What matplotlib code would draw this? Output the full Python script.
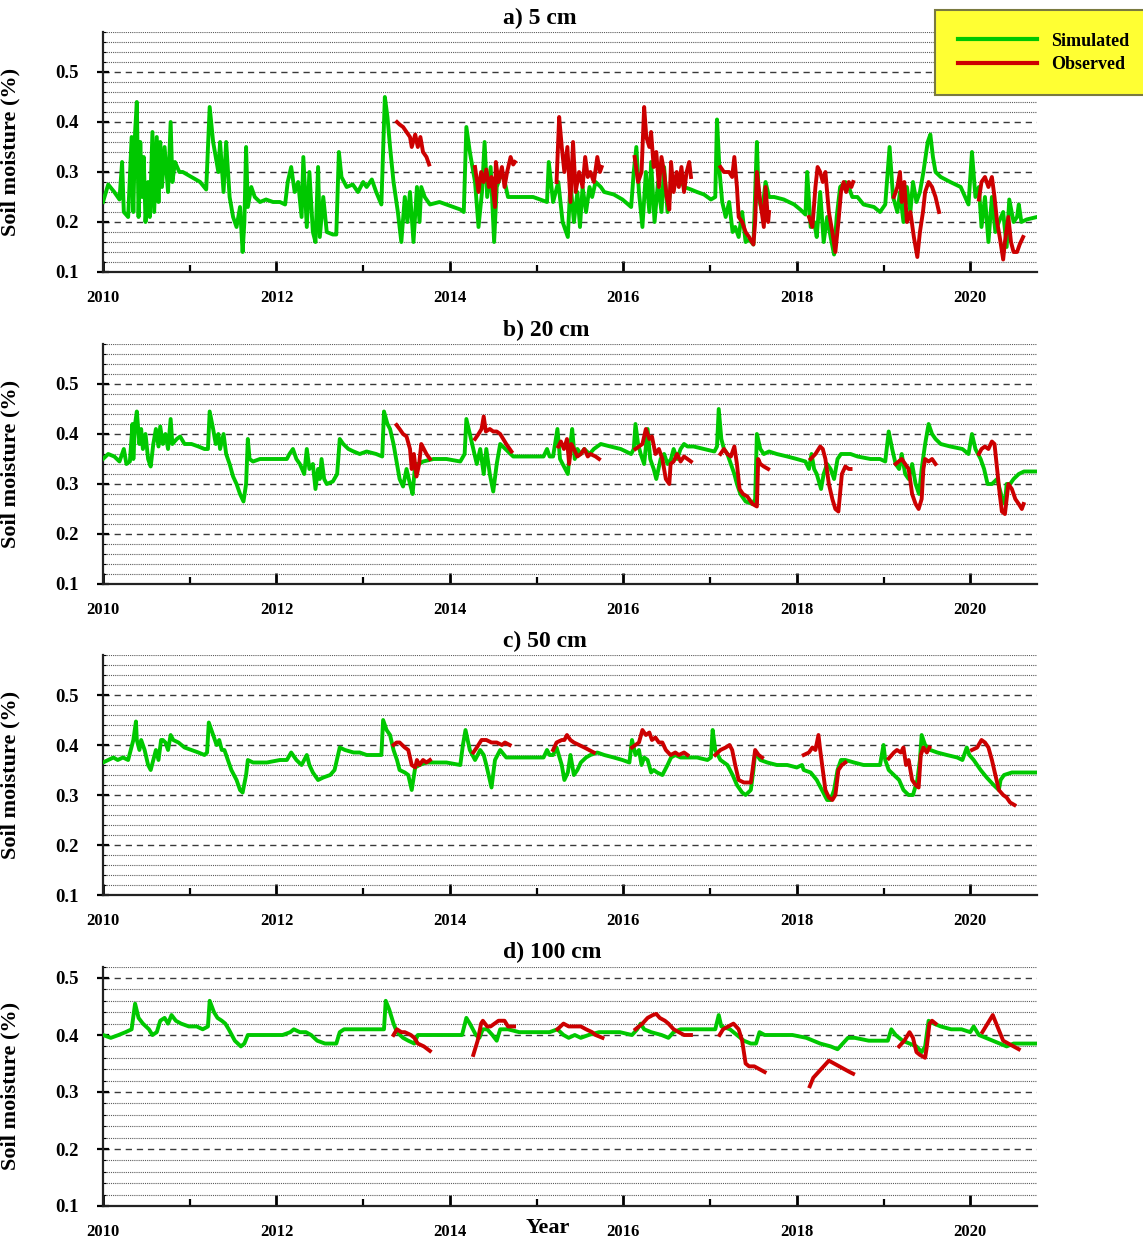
import numpy as np
import matplotlib
matplotlib.use('Agg')
import matplotlib.pyplot as plt
from matplotlib.ticker import MultipleLocator, FormatStrFormatter
from matplotlib.lines import Line2D

plt.rcParams['font.family'] = ['Liberation Serif', 'DejaVu Serif']
plt.rcParams['font.weight'] = 'bold'

# simulated soil moisture, (decimal year, value)
sim_5cm = [
    (2010.00, .24), (2010.06, .275), (2010.13, .26), (2010.19, .245), (2010.22, .32), (2010.24, .22),
    (2010.29, .21), (2010.33, .37), (2010.35, .22), (2010.37, .38), (2010.39, .44), (2010.41, .21),
    (2010.43, .36), (2010.45, .25), (2010.47, .33), (2010.49, .20), (2010.52, .28), (2010.54, .21),
    (2010.57, .38), (2010.59, .22), (2010.62, .37), (2010.64, .24), (2010.66, .36), (2010.68, .27),
    (2010.71, .35), (2010.75, .26), (2010.78, .40), (2010.80, .28), (2010.83, .32), (2010.88, .30),
    (2010.92, .30), (2011.12, .28), (2011.19, .265), (2011.23, .43), (2011.27, .36), (2011.33, .30),
    (2011.35, .36), (2011.39, .26), (2011.42, .36), (2011.46, .25), (2011.50, .21), (2011.54, .19),
    (2011.58, .23), (2011.61, .14), (2011.63, .20), (2011.65, .35), (2011.67, .23), (2011.71, .27),
    (2011.75, .25), (2011.81, .24), (2011.88, .245), (2011.96, .24), (2012.04, .24), (2012.10, .235),
    (2012.13, .28), (2012.17, .31), (2012.21, .26), (2012.25, .28), (2012.29, .21), (2012.31, .33),
    (2012.35, .19), (2012.38, .30), (2012.42, .18), (2012.45, .16), (2012.48, .31), (2012.50, .17),
    (2012.54, .25), (2012.58, .18), (2012.65, .175), (2012.69, .175), (2012.72, .34), (2012.75, .29),
    (2012.81, .27), (2012.88, .275), (2012.94, .26), (2013.00, .28), (2013.04, .27), (2013.10, .285),
    (2013.15, .26), (2013.21, .235), (2013.25, .45), (2013.28, .41), (2013.31, .35), (2013.35, .28),
    (2013.40, .22), (2013.44, .16), (2013.48, .25), (2013.51, .20), (2013.54, .26), (2013.58, .16),
    (2013.62, .27), (2013.65, .20), (2013.67, .27), (2013.71, .25), (2013.77, .235), (2013.88, .24),
    (2013.96, .235), (2014.12, .225), (2014.16, .22), (2014.19, .39), (2014.23, .34), (2014.29, .28),
    (2014.33, .19), (2014.37, .26), (2014.40, .36), (2014.43, .25), (2014.47, .31), (2014.51, .16),
    (2014.54, .27), (2014.58, .29), (2014.62, .29), (2014.67, .25), (2014.81, .25), (2014.96, .25),
    (2015.12, .24), (2015.14, .32), (2015.19, .24), (2015.25, .28), (2015.30, .20), (2015.32, .19),
    (2015.36, .17), (2015.39, .28), (2015.43, .20), (2015.47, .26), (2015.50, .19), (2015.53, .27),
    (2015.57, .22), (2015.61, .27), (2015.64, .25), (2015.68, .28), (2015.74, .27), (2015.78, .26),
    (2015.89, .255), (2015.99, .245), (2016.09, .23), (2016.12, .30), (2016.15, .35), (2016.18, .26),
    (2016.22, .19), (2016.26, .30), (2016.30, .22), (2016.32, .32), (2016.36, .20), (2016.40, .28),
    (2016.44, .22), (2016.47, .31), (2016.51, .22), (2016.54, .26), (2016.58, .28), (2016.64, .29),
    (2016.70, .27), (2016.78, .265), (2016.85, .26), (2016.93, .255), (2017.01, .245), (2017.06, .25),
    (2017.08, .405), (2017.11, .30), (2017.14, .24), (2017.18, .21), (2017.22, .24), (2017.26, .18),
    (2017.29, .19), (2017.33, .17), (2017.37, .22), (2017.41, .16), (2017.45, .165), (2017.50, .155),
    (2017.54, .36), (2017.56, .25), (2017.60, .22), (2017.64, .28), (2017.68, .25), (2017.74, .25),
    (2017.85, .245), (2017.97, .235), (2018.04, .225), (2018.10, .215), (2018.12, .30), (2018.16, .19),
    (2018.20, .20), (2018.23, .17), (2018.27, .26), (2018.31, .16), (2018.35, .21), (2018.39, .17),
    (2018.43, .135), (2018.46, .21), (2018.50, .27), (2018.56, .28), (2018.60, .27), (2018.64, .25),
    (2018.70, .25), (2018.77, .235), (2018.89, .23), (2018.96, .22), (2019.02, .235), (2019.07, .35),
    (2019.11, .25), (2019.16, .22), (2019.19, .26), (2019.23, .20), (2019.27, .27), (2019.31, .22),
    (2019.34, .28), (2019.38, .24), (2019.42, .26), (2019.46, .30), (2019.51, .36), (2019.54, .375),
    (2019.57, .33), (2019.60, .30), (2019.66, .29), (2019.77, .28), (2019.89, .27), (2019.98, .235),
    (2020.02, .34), (2020.06, .25), (2020.10, .27), (2020.13, .19), (2020.17, .25), (2020.21, .16),
    (2020.25, .25), (2020.29, .18), (2020.33, .20), (2020.38, .22), (2020.42, .15), (2020.45, .245),
    (2020.50, .20), (2020.54, .21), (2020.56, .235), (2020.59, .20), (2020.65, .205), (2020.77, .21),
]

sim_20cm = [
    (2010.00, .35), (2010.06, .36), (2010.13, .355), (2010.19, .345), (2010.24, .37), (2010.27, .34),
    (2010.31, .345), (2010.34, .42), (2010.35, .35), (2010.37, .42), (2010.39, .445), (2010.42, .38),
    (2010.44, .41), (2010.46, .37), (2010.49, .40), (2010.52, .35), (2010.55, .335), (2010.58, .38),
    (2010.61, .41), (2010.64, .375), (2010.66, .415), (2010.69, .38), (2010.72, .40), (2010.75, .37),
    (2010.78, .43), (2010.80, .38), (2010.85, .39), (2010.89, .395), (2010.94, .38), (2011.02, .38),
    (2011.10, .375), (2011.17, .37), (2011.21, .37), (2011.23, .445), (2011.27, .41), (2011.30, .38),
    (2011.33, .40), (2011.35, .37), (2011.39, .40), (2011.42, .36), (2011.46, .34), (2011.50, .315),
    (2011.54, .30), (2011.58, .28), (2011.62, .265), (2011.65, .30), (2011.67, .39), (2011.69, .35),
    (2011.73, .345), (2011.81, .35), (2011.96, .35), (2012.12, .35), (2012.15, .36), (2012.19, .37),
    (2012.23, .35), (2012.27, .34), (2012.32, .32), (2012.35, .37), (2012.38, .33), (2012.42, .34),
    (2012.45, .29), (2012.48, .33), (2012.50, .31), (2012.52, .35), (2012.55, .31), (2012.58, .30),
    (2012.65, .305), (2012.70, .32), (2012.73, .39), (2012.77, .38), (2012.83, .37), (2012.89, .365),
    (2012.96, .36), (2013.04, .365), (2013.15, .36), (2013.22, .355), (2013.24, .445), (2013.28, .42),
    (2013.31, .41), (2013.35, .38), (2013.39, .34), (2013.42, .31), (2013.46, .295), (2013.50, .33),
    (2013.54, .30), (2013.57, .28), (2013.60, .34), (2013.64, .34), (2013.69, .345), (2013.81, .35),
    (2013.96, .35), (2014.12, .345), (2014.17, .36), (2014.19, .43), (2014.23, .40), (2014.27, .37),
    (2014.31, .34), (2014.35, .37), (2014.39, .32), (2014.42, .37), (2014.46, .32), (2014.50, .285),
    (2014.54, .34), (2014.58, .38), (2014.64, .37), (2014.73, .355), (2014.96, .355), (2015.08, .355),
    (2015.12, .37), (2015.15, .355), (2015.19, .355), (2015.24, .41), (2015.27, .35), (2015.33, .33),
    (2015.36, .32), (2015.39, .38), (2015.41, .41), (2015.44, .35), (2015.47, .37), (2015.51, .36),
    (2015.55, .37), (2015.61, .36), (2015.66, .37), (2015.70, .375), (2015.74, .38), (2015.85, .375),
    (2015.97, .37), (2016.09, .36), (2016.12, .37), (2016.14, .42), (2016.17, .38), (2016.20, .36),
    (2016.24, .34), (2016.28, .41), (2016.31, .35), (2016.35, .33), (2016.38, .31), (2016.43, .35),
    (2016.47, .36), (2016.51, .34), (2016.55, .35), (2016.58, .37), (2016.62, .35), (2016.66, .37),
    (2016.70, .38), (2016.74, .375), (2016.81, .375), (2016.93, .37), (2017.05, .365), (2017.08, .375),
    (2017.10, .45), (2017.13, .39), (2017.16, .37), (2017.20, .36), (2017.24, .34), (2017.28, .32),
    (2017.31, .30), (2017.35, .28), (2017.41, .265), (2017.49, .26), (2017.52, .27), (2017.54, .40),
    (2017.58, .37), (2017.62, .36), (2017.68, .365), (2017.77, .36), (2017.89, .355), (2018.00, .35),
    (2018.10, .345), (2018.14, .33), (2018.17, .36), (2018.20, .33), (2018.23, .32), (2018.28, .29),
    (2018.31, .32), (2018.35, .34), (2018.39, .33), (2018.43, .31), (2018.47, .35), (2018.51, .36),
    (2018.56, .36), (2018.62, .36), (2018.70, .355), (2018.85, .35), (2018.96, .35), (2019.02, .345),
    (2019.06, .405), (2019.10, .37), (2019.14, .34), (2019.18, .33), (2019.21, .36), (2019.25, .32),
    (2019.29, .31), (2019.33, .34), (2019.37, .30), (2019.41, .28), (2019.44, .33), (2019.48, .38),
    (2019.52, .42), (2019.56, .40), (2019.60, .39), (2019.66, .38), (2019.77, .375), (2019.91, .37),
    (2019.98, .36), (2020.02, .40), (2020.06, .37), (2020.12, .35), (2020.16, .33), (2020.20, .30),
    (2020.25, .30), (2020.31, .31), (2020.37, .27), (2020.40, .26), (2020.42, .30), (2020.46, .30),
    (2020.50, .31), (2020.56, .32), (2020.62, .325), (2020.77, .325),
]

sim_50cm = [
    (2010.00, .365), (2010.06, .37), (2010.12, .375), (2010.17, .37), (2010.23, .375), (2010.29, .37),
    (2010.32, .39), (2010.35, .41), (2010.38, .447), (2010.39, .41), (2010.42, .39), (2010.44, .41),
    (2010.48, .39), (2010.52, .36), (2010.55, .35), (2010.58, .37), (2010.61, .39), (2010.64, .37),
    (2010.67, .41), (2010.69, .41), (2010.72, .405), (2010.75, .39), (2010.78, .42), (2010.81, .41),
    (2010.87, .405), (2010.94, .395), (2011.02, .39), (2011.10, .385), (2011.17, .38), (2011.20, .385),
    (2011.22, .445), (2011.27, .42), (2011.31, .40), (2011.34, .41), (2011.37, .39), (2011.40, .39),
    (2011.44, .37), (2011.48, .35), (2011.54, .33), (2011.58, .31), (2011.61, .305), (2011.65, .34),
    (2011.67, .37), (2011.73, .365), (2011.89, .365), (2012.04, .37), (2012.12, .37), (2012.17, .385),
    (2012.23, .37), (2012.29, .36), (2012.35, .38), (2012.38, .36), (2012.42, .345), (2012.48, .33),
    (2012.54, .335), (2012.62, .34), (2012.67, .35), (2012.71, .38), (2012.73, .395), (2012.79, .39),
    (2012.89, .385), (2012.96, .385), (2013.04, .38), (2013.15, .38), (2013.21, .38), (2013.23, .45),
    (2013.27, .43), (2013.31, .42), (2013.35, .39), (2013.39, .37), (2013.42, .35), (2013.48, .345),
    (2013.52, .34), (2013.56, .31), (2013.60, .355), (2013.65, .36), (2013.73, .365), (2013.96, .365),
    (2014.12, .36), (2014.15, .40), (2014.18, .43), (2014.23, .39), (2014.29, .37), (2014.35, .39),
    (2014.39, .38), (2014.42, .36), (2014.48, .315), (2014.52, .37), (2014.58, .39), (2014.65, .375),
    (2014.96, .375), (2015.08, .375), (2015.12, .39), (2015.15, .38), (2015.19, .38), (2015.23, .395),
    (2015.29, .36), (2015.32, .33), (2015.36, .345), (2015.39, .38), (2015.43, .34), (2015.47, .35),
    (2015.51, .365), (2015.57, .375), (2015.62, .38), (2015.70, .385), (2015.78, .38), (2015.89, .375),
    (2015.99, .37), (2016.07, .365), (2016.10, .41), (2016.14, .38), (2016.18, .39), (2016.21, .36),
    (2016.24, .375), (2016.28, .37), (2016.32, .345), (2016.35, .35), (2016.39, .345), (2016.45, .34),
    (2016.51, .36), (2016.55, .375), (2016.60, .38), (2016.66, .375), (2016.74, .375), (2016.85, .375),
    (2016.97, .37), (2017.01, .375), (2017.03, .43), (2017.06, .39), (2017.12, .37), (2017.20, .36),
    (2017.26, .34), (2017.31, .32), (2017.37, .305), (2017.41, .30), (2017.47, .31), (2017.50, .35),
    (2017.52, .385), (2017.58, .37), (2017.66, .365), (2017.77, .36), (2017.89, .36), (2018.00, .355),
    (2018.06, .36), (2018.08, .35), (2018.16, .345), (2018.23, .33), (2018.29, .31), (2018.35, .29),
    (2018.39, .29), (2018.43, .31), (2018.47, .35), (2018.51, .37), (2018.56, .37), (2018.66, .365),
    (2018.77, .36), (2018.96, .36), (2019.00, .40), (2019.02, .37), (2019.06, .35), (2019.12, .34),
    (2019.18, .33), (2019.23, .31), (2019.29, .30), (2019.34, .30), (2019.39, .33), (2019.42, .37),
    (2019.44, .42), (2019.48, .40), (2019.54, .39), (2019.62, .385), (2019.73, .38), (2019.85, .375),
    (2019.91, .37), (2019.96, .395), (2019.99, .38), (2020.04, .37), (2020.12, .35), (2020.19, .335),
    (2020.27, .32), (2020.33, .31), (2020.35, .33), (2020.39, .34), (2020.48, .345), (2020.77, .345),
]

sim_100cm = [
    (2010.00, .40), (2010.09, .395), (2010.18, .40), (2010.26, .405), (2010.33, .41), (2010.37, .455),
    (2010.41, .43), (2010.46, .42), (2010.53, .41), (2010.57, .40), (2010.62, .405), (2010.66, .425),
    (2010.71, .43), (2010.75, .42), (2010.79, .435), (2010.84, .425), (2010.90, .42), (2010.99, .415),
    (2011.08, .415), (2011.15, .41), (2011.21, .415), (2011.23, .46), (2011.28, .44), (2011.32, .43),
    (2011.37, .425), (2011.41, .42), (2011.45, .41), (2011.52, .39), (2011.59, .38), (2011.63, .385),
    (2011.67, .40), (2011.89, .40), (2012.07, .40), (2012.16, .405), (2012.20, .41), (2012.27, .405),
    (2012.34, .405), (2012.40, .40), (2012.47, .39), (2012.56, .385), (2012.69, .385), (2012.73, .405),
    (2012.78, .41), (2013.04, .41), (2013.24, .41), (2013.26, .46), (2013.30, .445), (2013.35, .42),
    (2013.39, .405), (2013.46, .395), (2013.52, .39), (2013.59, .385), (2013.63, .40), (2013.79, .40),
    (2014.01, .40), (2014.14, .40), (2014.19, .43), (2014.23, .42), (2014.30, .40), (2014.34, .395),
    (2014.38, .41), (2014.43, .41), (2014.49, .40), (2014.54, .39), (2014.58, .41), (2014.67, .41),
    (2014.80, .405), (2014.98, .405), (2015.15, .405), (2015.24, .41), (2015.31, .40), (2015.37, .395),
    (2015.44, .40), (2015.51, .395), (2015.60, .40), (2015.72, .405), (2015.84, .405), (2015.96, .405),
    (2016.10, .40), (2016.16, .41), (2016.20, .42), (2016.24, .41), (2016.32, .405), (2016.44, .40),
    (2016.52, .395), (2016.58, .405), (2016.66, .41), (2016.76, .41), (2016.92, .41), (2017.06, .41),
    (2017.10, .435), (2017.13, .415), (2017.23, .41), (2017.31, .40), (2017.39, .39), (2017.47, .385),
    (2017.53, .385), (2017.57, .405), (2017.63, .40), (2017.79, .40), (2017.95, .40), (2018.11, .395),
    (2018.27, .385), (2018.39, .38), (2018.47, .375), (2018.53, .385), (2018.59, .395), (2018.67, .395),
    (2018.83, .39), (2019.05, .39), (2019.09, .41), (2019.14, .40), (2019.22, .39), (2019.30, .385),
    (2019.38, .38), (2019.44, .37), (2019.48, .38), (2019.52, .425), (2019.58, .42), (2019.66, .415),
    (2019.78, .41), (2019.90, .41), (2020.00, .405), (2020.04, .415), (2020.10, .40), (2020.18, .395),
    (2020.26, .39), (2020.34, .385), (2020.42, .38), (2020.50, .385), (2020.62, .385), (2020.77, .385),
]

# observed soil moisture, one list per measuring campaign
obs_5cm = [
    [(2013.39, .40), (2013.42, .395), (2013.46, .39), (2013.50, .38), (2013.54, .37), (2013.56, .35),
     (2013.60, .375), (2013.63, .35), (2013.66, .37), (2013.69, .34), (2013.73, .33), (2013.76, .315)],
    [(2014.29, .31), (2014.33, .26), (2014.36, .30), (2014.39, .28), (2014.42, .305), (2014.45, .27),
     (2014.48, .29), (2014.52, .23), (2014.53, .32), (2014.56, .28), (2014.60, .31), (2014.63, .27),
     (2014.66, .30), (2014.70, .33), (2014.73, .315), (2014.75, .32)],
    [(2015.23, .28), (2015.26, .41), (2015.29, .35), (2015.32, .30), (2015.355, .35), (2015.39, .24),
     (2015.42, .36), (2015.45, .26), (2015.49, .30), (2015.53, .27), (2015.56, .33), (2015.59, .29),
     (2015.62, .30), (2015.66, .28), (2015.70, .33), (2015.73, .30), (2015.75, .31)],
    [(2016.13, .33), (2016.17, .28), (2016.21, .30), (2016.24, .43), (2016.265, .37), (2016.30, .35),
     (2016.32, .38), (2016.35, .31), (2016.38, .34), (2016.41, .27), (2016.44, .33), (2016.47, .30),
     (2016.50, .25), (2016.53, .225), (2016.55, .32), (2016.58, .26), (2016.615, .30), (2016.64, .27),
     (2016.67, .31), (2016.70, .26), (2016.73, .30), (2016.76, .32), (2016.78, .29)],
    [(2017.12, .31), (2017.16, .30), (2017.22, .30), (2017.255, .29), (2017.28, .33), (2017.31, .27),
     (2017.33, .21), (2017.37, .20), (2017.41, .18), (2017.45, .17), (2017.50, .155), (2017.52, .20),
     (2017.54, .30), (2017.58, .24), (2017.62, .19), (2017.64, .27), (2017.67, .20), (2017.68, .22)],
    [(2018.14, .21), (2018.18, .19), (2018.215, .27), (2018.24, .31), (2018.27, .30), (2018.30, .28),
     (2018.33, .30), (2018.37, .22), (2018.41, .18), (2018.445, .14), (2018.48, .20), (2018.51, .26),
     (2018.54, .28), (2018.57, .26), (2018.60, .28), (2018.63, .27), (2018.65, .28)],
    [(2019.12, .25), (2019.16, .27), (2019.19, .30), (2019.21, .24), (2019.24, .28), (2019.27, .20),
     (2019.31, .22), (2019.35, .17), (2019.39, .13), (2019.42, .18), (2019.455, .22), (2019.48, .26),
     (2019.52, .28), (2019.56, .27), (2019.60, .25), (2019.64, .22)],
    [(2020.10, .245), (2020.13, .28), (2020.17, .29), (2020.21, .27), (2020.25, .29), (2020.28, .25),
     (2020.31, .20), (2020.34, .17), (2020.38, .125), (2020.40, .16), (2020.44, .21), (2020.47, .16),
     (2020.50, .14), (2020.54, .14), (2020.57, .155), (2020.61, .17)],
]

obs_20cm = [
    [(2013.385, .418), (2013.42, .41), (2013.46, .40), (2013.50, .395), (2013.54, .37), (2013.56, .33),
     (2013.585, .36), (2013.615, .315), (2013.645, .34), (2013.67, .38), (2013.70, .37), (2013.73, .36),
     (2013.77, .35)],
    [(2014.29, .39), (2014.33, .40), (2014.365, .41), (2014.39, .435), (2014.415, .405), (2014.46, .41),
     (2014.50, .405), (2014.54, .405), (2014.58, .40), (2014.615, .39), (2014.65, .38), (2014.71, .365)],
    [(2015.25, .375), (2015.28, .385), (2015.315, .37), (2015.35, .39), (2015.375, .34), (2015.40, .38),
     (2015.43, .37), (2015.47, .355), (2015.51, .36), (2015.55, .37), (2015.59, .355), (2015.62, .36),
     (2015.68, .355), (2015.72, .35)],
    [(2016.14, .37), (2016.18, .375), (2016.22, .38), (2016.26, .41), (2016.30, .39), (2016.33, .395),
     (2016.37, .36), (2016.41, .37), (2016.45, .35), (2016.49, .31), (2016.53, .30), (2016.545, .34),
     (2016.58, .345), (2016.62, .36), (2016.66, .345), (2016.70, .355), (2016.74, .35), (2016.78, .345)],
    [(2017.12, .36), (2017.16, .37), (2017.20, .36), (2017.24, .355), (2017.28, .375), (2017.31, .34),
     (2017.34, .29), (2017.38, .28), (2017.43, .275), (2017.49, .26), (2017.54, .255), (2017.555, .35),
     (2017.58, .34), (2017.62, .335), (2017.67, .33)],
    [(2018.16, .35), (2018.215, .36), (2018.27, .375), (2018.30, .37), (2018.33, .35), (2018.37, .30),
     (2018.41, .27), (2018.445, .25), (2018.48, .245), (2018.52, .32), (2018.56, .335), (2018.60, .33),
     (2018.62, .33)],
    [(2019.14, .34), (2019.175, .345), (2019.21, .35), (2019.25, .34), (2019.29, .33), (2019.33, .28),
     (2019.37, .26), (2019.405, .25), (2019.44, .27), (2019.46, .33), (2019.48, .35), (2019.52, .345),
     (2019.56, .35), (2019.60, .34)],
    [(2020.10, .36), (2020.13, .37), (2020.17, .375), (2020.21, .37), (2020.25, .385), (2020.28, .38),
     (2020.31, .33), (2020.34, .28), (2020.365, .245), (2020.40, .24), (2020.44, .30), (2020.48, .29),
     (2020.52, .27), (2020.56, .26), (2020.595, .25), (2020.615, .26)],
]

obs_50cm = [
    [(2013.35, .40), (2013.385, .405), (2013.42, .405), (2013.48, .395), (2013.52, .39), (2013.56, .36),
     (2013.60, .355), (2013.62, .37), (2013.65, .36), (2013.69, .37), (2013.73, .365), (2013.77, .37)],
    [(2014.27, .385), (2014.31, .395), (2014.365, .41), (2014.42, .41), (2014.48, .405), (2014.54, .405),
     (2014.60, .40), (2014.635, .405), (2014.69, .40)],
    [(2015.19, .39), (2015.23, .405), (2015.29, .41), (2015.32, .41), (2015.35, .42), (2015.39, .41),
     (2015.43, .405), (2015.49, .40), (2015.55, .395), (2015.605, .39), (2015.66, .385)],
    [(2016.10, .395), (2016.14, .40), (2016.18, .405), (2016.22, .43), (2016.26, .42), (2016.30, .425),
     (2016.33, .41), (2016.37, .415), (2016.41, .405), (2016.45, .405), (2016.49, .39), (2016.545, .38),
     (2016.60, .385), (2016.64, .38), (2016.70, .385), (2016.74, .38)],
    [(2017.06, .38), (2017.12, .39), (2017.18, .395), (2017.225, .40), (2017.255, .39), (2017.29, .36),
     (2017.33, .33), (2017.39, .325), (2017.47, .325), (2017.49, .35), (2017.52, .39), (2017.56, .38),
     (2017.60, .375)],
    [(2018.08, .38), (2018.14, .385), (2018.18, .395), (2018.215, .39), (2018.25, .42), (2018.27, .39),
     (2018.30, .35), (2018.33, .31), (2018.37, .295), (2018.41, .29), (2018.445, .30), (2018.48, .35),
     (2018.52, .36), (2018.56, .365)],
    [(2019.06, .373), (2019.12, .385), (2019.155, .39), (2019.20, .385), (2019.23, .395), (2019.26, .36),
     (2019.29, .37), (2019.33, .33), (2019.37, .32), (2019.405, .315), (2019.43, .38), (2019.46, .395),
     (2019.50, .385), (2019.53, .395)],
    [(2020.02, .39), (2020.08, .395), (2020.13, .41), (2020.17, .405), (2020.21, .395), (2020.25, .37),
     (2020.29, .34), (2020.33, .31), (2020.38, .30), (2020.42, .295), (2020.46, .285), (2020.51, .28)],
]

obs_100cm = [
    [(2013.35, .40), (2013.39, .41), (2013.44, .405), (2013.48, .405), (2013.55, .40), (2013.59, .395),
     (2013.63, .385), (2013.70, .38), (2013.77, .372)],
    [(2014.27, .365), (2014.32, .39), (2014.36, .42), (2014.38, .425), (2014.43, .415), (2014.47, .415),
     (2014.515, .42), (2014.56, .425), (2014.63, .425), (2014.67, .415), (2014.74, .415)],
    [(2015.24, .41), (2015.31, .42), (2015.37, .415), (2015.44, .415), (2015.51, .415), (2015.57, .41),
     (2015.64, .405), (2015.68, .40), (2015.76, .395)],
    [(2016.14, .41), (2016.18, .415), (2016.22, .42), (2016.28, .43), (2016.34, .435), (2016.38, .437),
     (2016.42, .43), (2016.48, .425), (2016.52, .42), (2016.58, .41), (2016.64, .405), (2016.70, .40),
     (2016.78, .40)],
    [(2017.11, .40), (2017.15, .41), (2017.21, .415), (2017.27, .42), (2017.33, .41), (2017.37, .39),
     (2017.41, .35), (2017.45, .345), (2017.51, .345), (2017.57, .34), (2017.63, .335)],
    [(2018.15, .31), (2018.19, .325), (2018.25, .335), (2018.31, .345), (2018.37, .355), (2018.43, .35),
     (2018.49, .345), (2018.55, .34), (2018.61, .335), (2018.65, .332)],
    [(2019.18, .38), (2019.24, .39), (2019.30, .405), (2019.34, .395), (2019.38, .37), (2019.42, .365),
     (2019.48, .36), (2019.50, .38), (2019.53, .42), (2019.56, .425), (2019.60, .42)],
    [(2020.14, .405), (2020.20, .42), (2020.26, .435), (2020.30, .42), (2020.34, .405), (2020.38, .39),
     (2020.44, .385), (2020.50, .38), (2020.56, .375)],
]

titles = ['a) 5 cm', 'b) 20 cm', 'c) 50 cm', 'd) 100 cm']
sim_series = [sim_5cm, sim_20cm, sim_50cm, sim_100cm]
obs_series = [obs_5cm, obs_20cm, obs_50cm, obs_100cm]
y_tops = [0.58, 0.58, 0.58, 0.52]

GREEN = '#00c800'
RED = '#cc0000'

W, H = 1143, 1241
fig = plt.figure(figsize=(W / 100, H / 100), dpi=100)

# panel frames in pixels: left, right, bottom
left_px, right_px = 103, 1037
bottoms_px = [272, 584, 895, 1206]
px_per_tenth = [50, 50, 50, 57]

for i in range(4):
    height_px = (y_tops[i] - 0.1) * 10 * px_per_tenth[i]
    ax = fig.add_axes([left_px / W, 1 - bottoms_px[i] / H,
                       (right_px - left_px) / W, height_px / H])

    yrs, vals = np.array(sim_series[i]).T
    ax.plot(yrs, vals, color=GREEN, lw=2.8, solid_joinstyle='round', zorder=3)
    for seg in obs_series[i]:
        oy, ov = np.array(seg).T
        ax.plot(oy, ov, color=RED, lw=2.8, solid_joinstyle='round', zorder=4)

    ax.set_xlim(2010, 2020.77)
    ax.set_ylim(0.1, y_tops[i])

    ax.yaxis.set_major_locator(MultipleLocator(0.1))
    ax.yaxis.set_minor_locator(MultipleLocator(0.02))
    ax.yaxis.set_major_formatter(FormatStrFormatter('%.1f'))
    ax.xaxis.set_major_locator(MultipleLocator(2))
    ax.xaxis.set_minor_locator(MultipleLocator(1))
    ax.xaxis.set_major_formatter(FormatStrFormatter('%d'))

    ax.grid(which='major', axis='y', color='#3a3a3a', lw=1.0, ls=(0, (4.5, 3.5)))
    ax.grid(which='minor', axis='y', color='#4a4a4a', lw=0.8, ls=(0, (0.8, 0.9)))
    ax.set_axisbelow(True)

    for side in ['top', 'right']:
        ax.spines[side].set_visible(False)
    for side in ['left', 'bottom']:
        ax.spines[side].set_linewidth(1.6)
        ax.spines[side].set_color('#222222')

    ax.tick_params(axis='x', which='major', direction='in', length=8, width=2,
                   labelsize=12, pad=13)
    ax.tick_params(axis='x', which='minor', direction='in', length=5, width=1.6)
    ax.tick_params(axis='y', which='major', direction='inout', length=9, width=1.6,
                   labelsize=13.5, pad=13)
    ax.tick_params(axis='y', which='minor', direction='in', length=2.5, width=0.8)
    for lab in ax.get_xticklabels() + ax.get_yticklabels():
        lab.set_fontweight('bold')

    ax.set_ylabel('Soil moisture (%)', fontsize=16, fontweight='bold')
    ax.yaxis.set_label_coords(-(left_px - 20) / (right_px - left_px), 0.5)

    ax.text(0.428, 1 + 14 / height_px, titles[i], transform=ax.transAxes,
            ha='left', va='center', fontsize=17, fontweight='bold')

    if i == 3:
        ax.text(0.476, -22 / height_px, 'Year', transform=ax.transAxes,
                ha='center', va='center', fontsize=16, fontweight='bold')

handles = [Line2D([], [], color=GREEN, lw=3), Line2D([], [], color=RED, lw=3)]
leg = fig.legend(handles, ['Simulated', 'Observed'], loc='upper left',
                 bbox_to_anchor=(935 / W, 1 - 10 / H),
                 prop={'weight': 'bold', 'size': 13},
                 facecolor='#ffff33', edgecolor='#7a7a40', framealpha=1,
                 fancybox=False, handlelength=4.4, handletextpad=0.8,
                 borderpad=1.25, labelspacing=0.35, borderaxespad=0)
leg.get_frame().set_linewidth(1.5)

fig.savefig('out.png', dpi=100)
